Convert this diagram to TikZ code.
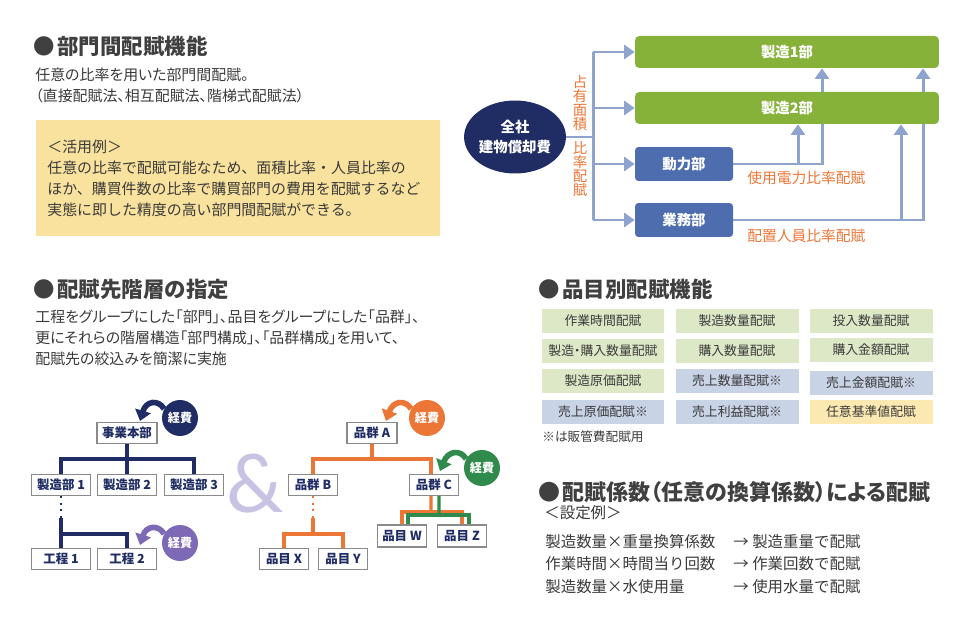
\documentclass[tikz,border=0pt]{standalone}
\usepackage{fontspec}
\newfontfamily\jp{Noto Sans CJK JP}
\newfontfamily\jpp[RawFeature=+palt]{Noto Sans CJK JP}
\newfontfamily\ampfont{Lato}
\usetikzlibrary{positioning,arrows.meta,shapes.geometric,backgrounds}

\definecolor{cNavy}{HTML}{1F2D64}
\definecolor{cLine}{HTML}{8EA4CF}
\definecolor{cGreen}{HTML}{86B23A}
\definecolor{cBlue}{HTML}{4D6DAE}
\definecolor{cOrange}{HTML}{EB7636}
\definecolor{cDkGreen}{HTML}{2F8A4C}
\definecolor{cPurple}{HTML}{7D69B5}
\definecolor{cLavender}{HTML}{C8C3E2}
\definecolor{cYellow}{HTML}{F9E29D}
\definecolor{cCellG}{HTML}{DDE8C7}
\definecolor{cCellB}{HTML}{C9D3E6}
\definecolor{cCellY}{HTML}{FCE9B2}
\definecolor{cText}{HTML}{3A3A3A}
\definecolor{cHead}{HTML}{404040}
\definecolor{cBorder}{HTML}{8A8A8A}

\begin{document}
\begin{tikzpicture}[x=0.02cm,y=-0.02cm,
   txt/.style={font=\jp\fontsize{8.5}{11.9}\selectfont,text=cText,inner sep=0pt,
      align=left},
   settxt/.style={font=\jp\fontsize{8.8}{13}\selectfont,text=cText,inner sep=0pt,
      align=left,anchor=west},
   heading/.style={font=\jp\bfseries\fontsize{12.2}{14}\selectfont,text=cHead,
      inner sep=0pt,anchor=west},
   greenbox/.style={fill=cGreen,rounded corners=2.5pt,minimum width=6.08cm,
      minimum height=0.64cm,text=white,font=\jp\bfseries\fontsize{8.2}{9}\selectfont},
   bluebox/.style={fill=cBlue,rounded corners=2pt,minimum width=1.96cm,
      minimum height=0.68cm,text=white,font=\jp\bfseries\fontsize{8.2}{9}\selectfont},
   flowline/.style={draw=cLine,line width=1.7pt},
   flow/.style={flowline,-{Triangle[length=6pt,width=8pt]}},
   ratio/.style={font=\jp\fontsize{8.2}{8.1}\selectfont,text=cOrange,inner sep=0pt,
      align=center},
   hbox/.style={draw=cBorder,fill=white,line width=0.6pt,minimum height=0.42cm,
      inner sep=0pt,text=cNavy,font=\jp\bfseries\fontsize{7.1}{8}\selectfont},
   keihi/.style={circle,minimum size=0.72cm,inner sep=0pt,text=white,
      font=\jp\bfseries\fontsize{6.9}{8}\selectfont},
   curl/.style={line width=3.2pt,-{Triangle[length=6pt,width=9pt]}},
   tree/.style={line width=1.9pt},
   cell/.style={minimum width=2.46cm,minimum height=0.48cm,inner sep=0pt,
      text=cText,font=\jpp\fontsize{7.3}{8}\selectfont},
   gcell/.style={cell,fill=cCellG},
   bcell/.style={cell,fill=cCellB},
   ycell/.style={cell,fill=cCellY}
]
   \useasboundingbox (0,0) rectangle (966,631);

   % section 1
   \node[heading] (h1) at (33,46) {●\hspace{1.5pt}部門間配賦機能};
   \node[txt,anchor=west,font=\jpp\fontsize{8.5}{11.9}\selectfont] (intro1) at (35,85.5)
      {任意の比率を用いた部門間配賦。\\（直接配賦法、相互配賦法、階梯式配賦法）};
   \node[fill=cYellow,anchor=north west,minimum width=8.08cm,minimum height=2.32cm,
      text width=7.64cm,inner xsep=0.22cm,inner ysep=0pt,align=left,
      font=\jp\fontsize{8.5}{11.9}\selectfont,text=cText] (usage) at (36,120)
      {＜活用例＞\\任意の比率で配賦可能なため、面積比率・人員比率の\\
       ほか、購買件数の比率で購買部門の費用を配賦するなど\\
       実態に即した精度の高い部門間配賦ができる。};

   \node[ellipse,fill=cNavy,minimum width=1.98cm,minimum height=1.46cm,inner sep=0pt,
      text=white,align=center,font=\jp\bfseries\fontsize{8.2}{11.3}\selectfont]
      (zensha) at (515,137) {全社\\建物償却費};
   \node[greenbox] (seizo1) at (787,52) {製造1部};
   \node[greenbox] (seizo2) at (787,108) {製造2部};
   \node[bluebox] (douryoku) at (684,164) {動力部};
   \node[bluebox] (gyomu) at (684,220) {業務部};

   \node[ratio] (senyu) at (580,103) {占\\有\\面\\積};
   \node[ratio] (hiritsu) at (580,169) {比\\率\\配\\賦};
   \node[ratio,anchor=west,font=\jp\fontsize{8.4}{9}\selectfont] (power) at (747,178)
      {使用電力比率配賦};
   \node[ratio,anchor=west,font=\jp\fontsize{8.4}{9}\selectfont] (staff) at (747,236)
      {配置人員比率配賦};

   \coordinate (t1) at (593,52);
   \coordinate (tm) at (593,137);
   \coordinate (t4) at (593,220);
   \coordinate (dk1) at (822,164);
   \coordinate (dk2) at (798,164);
   \coordinate (gk1) at (923,220);
   \coordinate (gk2) at (901,220);

   \begin{scope}[on background layer]
      \draw[flowline] (zensha.east) -- (tm);
      \draw[flowline,line cap=square] (t1) -- (t4);
      \foreach \n in {seizo1,seizo2,douryoku,gyomu}
         \draw[flow] (t1 |- \n.west) -- (\n.west);
      \draw[flow] (douryoku.east) -- (dk1) -- (dk1 |- seizo1.south);
      \draw[flow] (dk2) -- (dk2 |- seizo2.south);
      \draw[flow] (gyomu.east) -- (gk1) -- (gk1 |- seizo1.south);
      \draw[flow] (gk2) -- (gk2 |- seizo2.south);
   \end{scope}

   % section 2
   \node[heading] (h2) at (33,289) {●\hspace{1.5pt}配賦先階層の指定};
   \node[txt,anchor=west,font=\jpp\fontsize{8.5}{11.9}\selectfont] (intro2) at (35,338)
      {工程をグループにした「部門」、品目をグループにした「品群」、\\
       更にそれらの階層構造「部門構成」、「品群構成」を用いて、\\
       配賦先の絞込みを簡潔に実施};

   \node[hbox,minimum width=1.2cm] (jigyo) at (127,433) {事業本部};
   \node[hbox,minimum width=1.18cm] (bu1) at (61,485) {製造部 1};
   \node[hbox,minimum width=1.18cm] (bu2) at (127,485) {製造部 2};
   \node[hbox,minimum width=1.18cm] (bu3) at (194,485) {製造部 3};
   \node[hbox,minimum width=1.18cm] (kt1) at (61,559) {工程 1};
   \node[hbox,minimum width=1.18cm] (kt2) at (127,559) {工程 2};
   \node[keihi,fill=cNavy] (kh1) at (180,418) {経費};
   \node[keihi,fill=cPurple] (kh2) at (180,543) {経費};

   \coordinate (bar1) at (127,459);
   \coordinate (dot1) at (61,518);
   \coordinate (bar2) at (61,534);
   \draw[tree,cNavy] (jigyo.south) -- (bar1);
   \draw[tree,cNavy] (bu1.north) |- (bar1) -| (bu3.north);
   \draw[tree,cNavy] (bar1) -- (bu2.north);
   \draw[cNavy,line width=1.3pt,dash pattern=on 1.3pt off 2.4pt] (bu1.south) -- (dot1);
   \draw[tree,cNavy] (dot1) -- (kt1.north);
   \draw[tree,cNavy] (bar2) -| (kt2.north);

   \draw[curl,cNavy] (kh1.150) .. controls (158,399) and (146,401) .. (140,421);
   \draw[curl,cPurple] (kh2.150) .. controls (158,524) and (146,526) .. (140,545);

   \node[font=\ampfont\fontsize{46}{46}\selectfont,text=cLavender,inner sep=0pt]
      (amp) at (255,484) {\&};

   \node[hbox,minimum width=1.0cm] (gunA) at (372,433) {品群 A};
   \node[hbox,minimum width=0.98cm] (gunB) at (313,485) {品群 B};
   \node[hbox,minimum width=0.98cm] (gunC) at (434,485) {品群 C};
   \node[hbox,minimum width=0.97cm] (hinX) at (284,559) {品目 X};
   \node[hbox,minimum width=0.97cm] (hinY) at (343,559) {品目 Y};
   \node[hbox,minimum width=0.97cm,minimum height=0.44cm] (hinW) at (402,536) {品目 W};
   \node[hbox,minimum width=0.97cm,minimum height=0.44cm] (hinZ) at (462,536) {品目 Z};
   \node[keihi,fill=cOrange] (kh3) at (427,418) {経費};
   \node[keihi,fill=cDkGreen] (kh4) at (482,468) {経費};

   \coordinate (bar3) at (372,459);
   \coordinate (dot2) at (313,518);
   \coordinate (bar4) at (313,534);
   \coordinate (oc) at (431,512);
   \coordinate (gc) at (439,515);
   \draw[tree,cOrange] (gunA.south) -- (bar3);
   \draw[tree,cOrange] (gunB.north) |- (bar3) -| ([xshift=-0.06cm]gunC.north);
   \draw[cOrange,line width=1.3pt,dash pattern=on 1.3pt off 2.4pt] (gunB.south) -- (dot2);
   \draw[tree,cOrange] (dot2) -- (bar4);
   \draw[tree,cOrange] (hinX.north) |- (bar4) -| (hinY.north);
   \draw[tree,cOrange] ([xshift=-0.06cm]gunC.south) -- (oc);
   \draw[tree,cOrange] (hinW.north) |- (oc) -| (hinZ.north);
   \draw[tree,cDkGreen] ([xshift=0.1cm]gunC.south) -- (gc);
   \draw[tree,cDkGreen] ([xshift=0.12cm]hinW.north) |- (gc) -| ([xshift=0.14cm]hinZ.north);

   \draw[curl,cOrange] (kh3.150) .. controls (405,399) and (393,401) .. (386,421);
   \draw[curl,cDkGreen] (kh4.150) .. controls (460,449) and (448,451) .. (440,471);

   % section 3
   \node[heading] (h3) at (538,289) {●\hspace{1.5pt}品目別配賦機能};
   \foreach \nm/\x/\y/\kind/\lbl in {
      c11/603/321/gcell/作業時間配賦, c12/737/321/gcell/製造数量配賦,
      c13/871/321/gcell/投入数量配賦,
      c21/603/351/gcell/製造・購入数量配賦, c22/737/351/gcell/購入数量配賦,
      c23/871/350/gcell/購入金額配賦,
      c31/603/381/gcell/製造原価配賦, c32/737/381/bcell/売上数量配賦※,
      c33/871/383/bcell/売上金額配賦※,
      c41/603/412/bcell/売上原価配賦※, c42/737/412/bcell/売上利益配賦※,
      c43/871/412/ycell/任意基準値配賦}
      \node[\kind] (\nm) at (\x,\y) {\lbl};
   \node[anchor=west,inner sep=0pt,text=cText,font=\jp\fontsize{7.2}{8}\selectfont]
      (note) at (542,437) {※は販管費配賦用};

   % section 4
   \node[heading,font=\jpp\bfseries\fontsize{12.5}{14}\selectfont] (h4) at (538,492)
      {●\hspace{1.5pt}配賦係数（任意の換算係数）による配賦};
   \node[settxt] (setei) at (544,513) {＜設定例＞};
   \node[settxt] (calc) at (545,564)
      {製造数量×重量換算係数\\作業時間×時間当り回数\\製造数量×水使用量};
   \node[settxt] (result) at (733,564)
      {→ 製造重量で配賦\\→ 作業回数で配賦\\→ 使用水量で配賦};
\end{tikzpicture}
\end{document}
